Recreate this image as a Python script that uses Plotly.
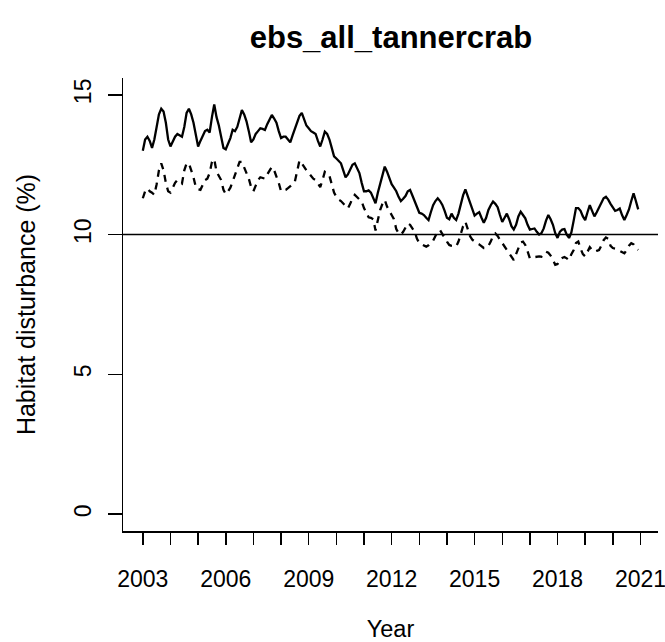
import plotly.graph_objects as go

# ---------------- data (monthly, Jan 2003 .. Dec 2020) ----------------
start_year = 2003
n_years = 18

solid_values = [
    # 2003
    13.0, 13.4, 13.5, 13.35, 13.1, 13.4, 13.85, 14.3, 14.5, 14.4, 14.0, 13.4,
    # 2004
    13.15, 13.35, 13.5, 13.6, 13.55, 13.5, 13.85, 14.35, 14.5, 14.3, 14.0, 13.5,
    # 2005
    13.15, 13.35, 13.55, 13.7, 13.75, 13.65, 14.2, 14.65, 14.2, 13.9, 13.5, 13.1,
    # 2006
    13.05, 13.25, 13.45, 13.75, 13.7, 13.85, 14.2, 14.45, 14.3, 14.05, 13.7, 13.3,
    # 2007
    13.4, 13.6, 13.7, 13.8, 13.78, 13.74, 13.95, 14.15, 14.28, 14.15, 14.0, 13.7,
    # 2008
    13.45, 13.5, 13.5, 13.4, 13.3, 13.55, 13.8, 14.05, 14.25, 14.35, 14.15, 13.9,
    # 2009
    13.8, 13.7, 13.65, 13.6, 13.35, 13.15, 13.4, 13.68, 13.6, 13.4, 13.1, 12.8,
    # 2010
    12.72, 12.65, 12.55, 12.3, 12.05, 12.15, 12.35, 12.5, 12.55, 12.4, 12.2, 11.85,
    # 2011
    11.55, 11.55, 11.58, 11.5, 11.3, 11.12, 11.5, 11.8, 12.15, 12.43, 12.25, 12.0,
    # 2012
    11.8, 11.68, 11.55, 11.35, 11.2, 11.28, 11.38, 11.55, 11.6, 11.4, 11.2, 10.95,
    # 2013
    10.78, 10.75, 10.7, 10.6, 10.52, 10.8, 11.05, 11.2, 11.3, 11.2, 11.06, 10.85,
    # 2014
    10.6, 10.55, 10.75, 10.6, 10.52, 10.75, 11.1, 11.4, 11.62, 11.4, 11.15, 10.9,
    # 2015
    10.68, 10.75, 10.8, 10.6, 10.42, 10.6, 10.88, 11.05, 11.18, 11.1, 10.98, 10.7,
    # 2016
    10.45, 10.6, 10.75, 10.55, 10.3, 10.18, 10.35, 10.65, 10.82, 10.7, 10.58, 10.35,
    # 2017
    10.18, 10.2, 10.22, 10.1, 10.0, 10.05, 10.22, 10.5, 10.7, 10.55, 10.35, 10.05,
    # 2018
    9.88, 10.1, 10.18, 10.2, 10.0, 9.88, 10.08, 10.5, 10.95, 10.95, 10.85, 10.65,
    # 2019
    10.52, 10.8, 11.05, 10.85, 10.65, 10.8, 10.95, 11.15, 11.3, 11.35, 11.25, 11.1,
    # 2020
    10.95, 10.85, 10.88, 10.93, 10.7, 10.52, 10.7, 10.9, 11.2, 11.48, 11.2, 10.9,
]

dashed_values = [
    # 2003
    11.3, 11.55, 11.65, 11.55, 11.5, 11.42, 11.8, 12.3, 12.55, 12.3, 11.85, 11.55,
    # 2004
    11.5, 11.7, 11.85, 11.95, 11.9, 11.83, 12.3, 12.55, 12.55, 12.3, 12.05, 11.7,
    # 2005
    11.62, 11.6, 11.75, 11.95, 12.0, 12.2, 12.6, 12.7, 12.25, 12.1, 11.95, 11.6,
    # 2006
    11.45, 11.55, 11.68, 11.9, 12.15, 12.4, 12.6, 12.6, 12.4, 12.25, 12.0, 11.7,
    # 2007
    11.55, 11.75, 11.95, 12.05, 12.03, 12.0, 12.15, 12.3, 12.42, 12.3, 12.1, 11.85,
    # 2008
    11.55, 11.58, 11.6, 11.66, 11.72, 11.8, 11.9, 12.3, 12.65, 12.55, 12.4, 12.3,
    # 2009
    12.2, 12.1, 12.0, 11.95, 11.8, 11.7, 11.95, 12.25, 12.2, 12.1, 11.8, 11.5,
    # 2010
    11.35, 11.25, 11.2, 11.1, 11.0, 10.94, 11.1, 11.3, 11.42, 11.35, 11.25, 11.18,
    # 2011
    10.95, 10.75, 10.62, 10.6, 10.55, 10.15, 10.5, 10.88, 11.1, 11.24, 11.0, 10.82,
    # 2012
    10.7, 10.55, 10.2, 10.05, 10.0, 10.1, 10.25, 10.4, 10.35, 10.22, 10.1, 9.85,
    # 2013
    9.7, 9.65, 9.6, 9.57, 9.62, 9.7, 9.78, 9.95, 10.1, 10.16, 10.0, 9.88,
    # 2014
    9.75, 9.63, 9.6, 9.58, 9.57, 9.75, 10.0, 10.3, 10.46, 10.2, 9.95, 9.82,
    # 2015
    9.75, 9.69, 9.65, 9.58, 9.52, 9.52, 9.6, 9.75, 9.95, 10.04, 9.95, 9.82,
    # 2016
    9.7, 9.55, 9.45, 9.3, 9.2, 9.09, 9.3, 9.55, 9.72, 9.75, 9.63, 9.4,
    # 2017
    9.15, 9.18, 9.2, 9.21, 9.22, 9.21, 9.3, 9.39, 9.35, 9.25, 9.1, 8.92,
    # 2018
    8.95, 9.1, 9.16, 9.2, 9.15, 9.09, 9.3, 9.45, 9.7, 9.75, 9.5, 9.3,
    # 2019
    9.22, 9.4, 9.55, 9.45, 9.39, 9.42, 9.45, 9.6, 9.8, 9.9, 9.85, 9.6,
    # 2020
    9.52, 9.5, 9.46, 9.43, 9.38, 9.33, 9.45, 9.6, 9.69, 9.65, 9.52, 9.45,
]

reference_level = 10

x_tick_years = list(range(2003, 2022))
x_tick_labels = [str(y) if (y - 2003) % 3 == 0 else "" for y in x_tick_years]
y_tick_values = [0, 5, 10, 15]
y_tick_labels = ["0", "5", "10", "15"]

title_text = "ebs_all_tannercrab"
x_title = "Year"
y_title = "Habitat disturbance (%)"

# monthly time stamps (decimal years)
time = [start_year + i / 12 for i in range(n_years * 12)]

# R-style axis extension (4%)
x_lo, x_hi = time[0], time[-1]
x_pad = 0.04 * (x_hi - x_lo)
y_lo, y_hi = 0, 15
y_pad = 0.04 * (y_hi - y_lo)

FONT = "Liberation Sans, Arial, sans-serif"

W, H = 665, 642

fig = go.Figure()
fig.add_trace(go.Scatter(
    x=time, y=solid_values, mode="lines",
    line=dict(color="black", width=2.3), showlegend=False,
))
fig.add_trace(go.Scatter(
    x=time, y=dashed_values, mode="lines",
    line=dict(color="black", width=2.3, dash="7px,6px"), showlegend=False,
))
fig.add_shape(type="line", xref="paper", x0=0, x1=1, yref="y",
              y0=reference_level, y1=reference_level,
              line=dict(color="black", width=1.5))

fig.update_layout(
    width=W, height=H,
    margin=dict(l=123, r=7, t=78, b=111, autoexpand=False),
    paper_bgcolor="white", plot_bgcolor="white",
    font=dict(family=FONT, color="black", size=23),
    title=dict(text="<b>" + title_text + "</b>", x=391 / W, xanchor="center",
               y=1 - 37 / H, yanchor="middle",
               font=dict(family=FONT, size=31, color="black")),
    xaxis=dict(
        range=[x_lo - x_pad, x_hi + x_pad],
        tickmode="array", tickvals=x_tick_years, ticktext=x_tick_labels,
        ticks="outside", ticklen=12, tickwidth=1.5, tickcolor="black",
        showline=True, linecolor="black", linewidth=1.5,
        showgrid=False, zeroline=False, automargin=False,
        tickfont=dict(size=23), ticklabelstandoff=15,
        ticklabeloverflow="allow",
        title=dict(text=x_title, font=dict(size=23.5), standoff=30),
    ),
    yaxis=dict(
        range=[y_lo - y_pad, y_hi + y_pad],
        tickmode="array", tickvals=y_tick_values, ticktext=y_tick_labels,
        ticks="outside", ticklen=14, tickwidth=1.5, tickcolor="black",
        showline=True, linecolor="black", linewidth=1.5,
        showgrid=False, zeroline=False, automargin=False,
        tickangle=-90, tickfont=dict(size=23), ticklabelstandoff=7,
        title=dict(text=y_title, font=dict(size=25), standoff=27),
    ),
)

fig.write_html(
    "out.html",
    config={"displayModeBar": False, "staticPlot": True},
    post_script="document.body.style.margin='0';document.body.style.overflow='hidden';",
)
